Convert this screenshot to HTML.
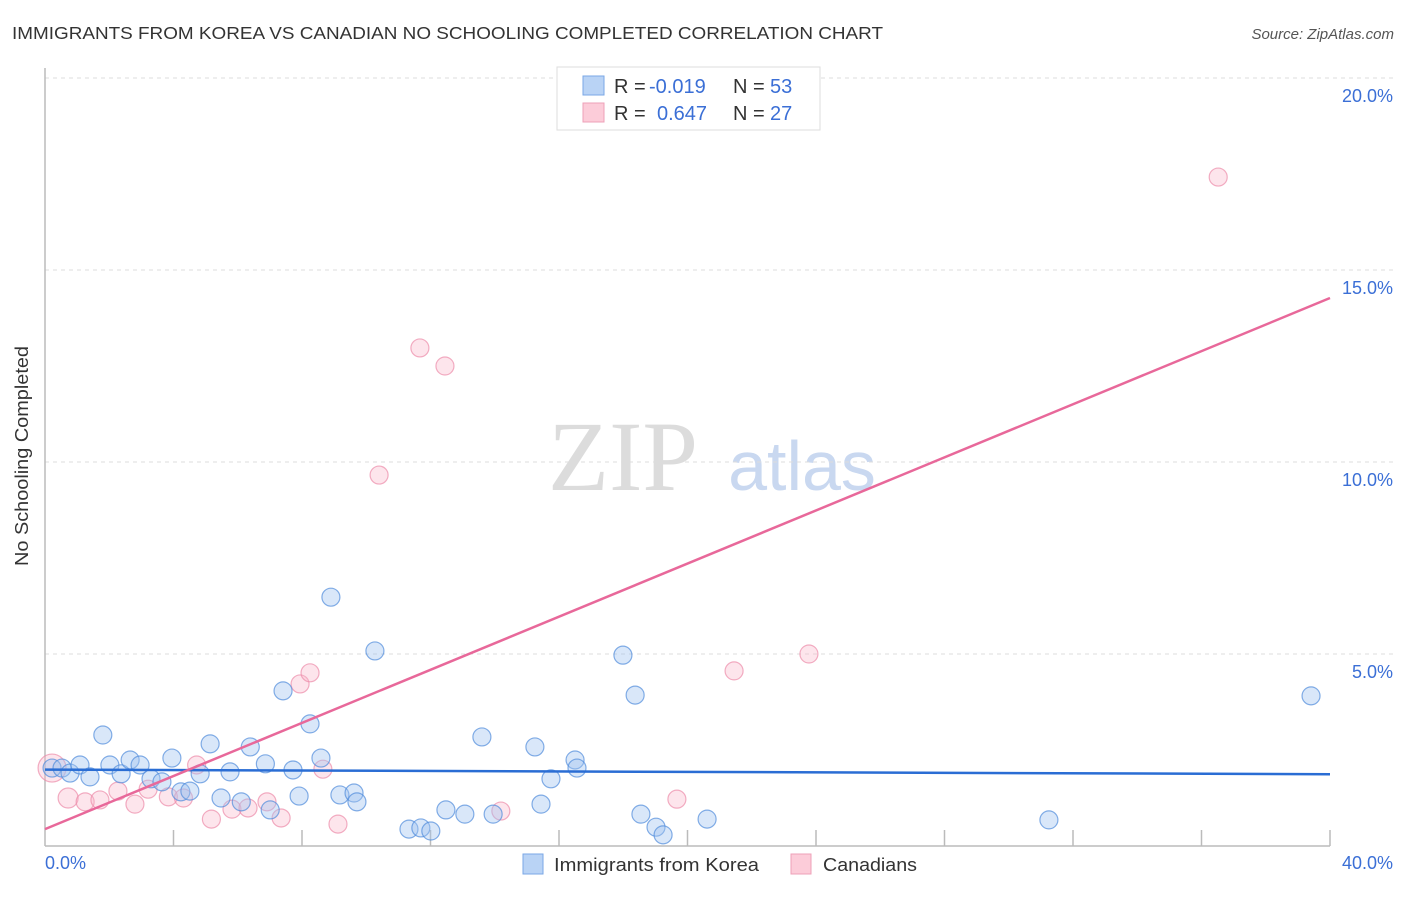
<!DOCTYPE html>
<html><head><meta charset="utf-8"><style>
body{margin:0;background:#fff;font-family:"Liberation Sans",sans-serif;}
</style></head><body>
<svg width="1406" height="892" xmlns="http://www.w3.org/2000/svg" font-family="Liberation Sans, sans-serif">
<text x="12" y="39" font-size="17.5" fill="#333" textLength="871" lengthAdjust="spacingAndGlyphs">IMMIGRANTS FROM KOREA VS CANADIAN NO SCHOOLING COMPLETED CORRELATION CHART</text>
<text x="1394" y="39" font-size="15" fill="#555" font-style="italic" text-anchor="end">Source: ZipAtlas.com</text>
<text x="623" y="490" font-size="100" fill="#dcdcdc" font-family="Liberation Serif, serif" text-anchor="middle">ZIP</text>
<text x="802" y="490" font-size="70" fill="#c9d8f0" text-anchor="middle">atlas</text>
<g id="grid"></g>
<g id="axes"></g>
<g id="pts"></g>
<g id="trend"></g>
<text x="28" y="456" font-size="18" fill="#333" text-anchor="middle" textLength="220" lengthAdjust="spacingAndGlyphs" transform="rotate(-90 28 456)">No Schooling Completed</text>
<text x="45" y="869" font-size="18" fill="#3b6fd6">0.0%</text>
<text x="1393" y="869" font-size="18" fill="#3b6fd6" text-anchor="end">40.0%</text>
<g>
<rect x="557" y="67" width="263" height="63" fill="#fff" stroke="#ddd"/>
<rect x="583" y="76" width="21" height="19" fill="#b9d3f5" stroke="#7aa7e6"/>
<rect x="583" y="103" width="21" height="19" fill="#fcccd9" stroke="#eea0b8"/>
<text x="614" y="93" font-size="20" fill="#333">R = <tspan fill="#3b6fd6" x="649">-0.019</tspan><tspan x="733">N = </tspan><tspan fill="#3b6fd6" x="770">53</tspan></text>
<text x="614" y="120" font-size="20" fill="#333">R = <tspan fill="#3b6fd6" x="657">0.647</tspan><tspan x="733">N = </tspan><tspan fill="#3b6fd6" x="770">27</tspan></text>
</g>
<g>
<rect x="523" y="854" width="20" height="20" fill="#b9d3f5" stroke="#7aa7e6"/>
<text x="554" y="871" font-size="18" fill="#333" textLength="205" lengthAdjust="spacingAndGlyphs">Immigrants from Korea</text>
<rect x="791" y="854" width="20" height="20" fill="#fcccd9" stroke="#eea0b8"/>
<text x="823" y="871" font-size="18" fill="#333" textLength="94" lengthAdjust="spacingAndGlyphs">Canadians</text>
</g>
</svg>
<script>
const yTicks=[5,10,15,20];
const yTickLabels=["5.0%","10.0%","15.0%","20.0%"];
const koreaX=[0.22,0.53,0.78,1.09,1.40,1.80,2.02,2.37,2.65,2.96,3.30,3.64,3.95,4.23,4.51,4.83,5.14,5.48,5.76,6.11,6.39,6.86,7.01,7.41,7.72,7.91,8.25,8.59,8.90,9.18,9.62,9.71,10.27,11.33,11.70,12.01,12.48,13.07,13.60,13.95,15.25,15.44,15.75,16.50,16.56,17.99,18.37,18.55,19.02,19.24,20.61,31.25,39.41];
const koreaY=[2.03,2.03,1.90,2.11,1.80,2.89,2.11,1.88,2.24,2.11,1.75,1.67,2.29,1.41,1.43,1.88,2.66,1.25,1.93,1.15,2.58,2.14,0.94,4.04,1.98,1.30,3.18,2.29,6.48,1.33,1.38,1.15,5.08,0.44,0.47,0.39,0.94,0.83,2.84,0.83,2.58,1.09,1.75,2.24,2.03,4.97,3.93,0.83,0.49,0.29,0.70,0.68,3.91];
const canX=[0.22,0.72,1.25,1.71,2.27,2.80,3.21,3.84,4.31,4.72,5.18,5.82,6.32,6.91,7.35,7.94,8.25,8.65,9.12,10.40,11.67,12.45,14.19,19.67,21.45,23.78,36.52];
const canY=[2.03,1.25,1.15,1.20,1.43,1.09,1.48,1.28,1.25,2.11,0.70,0.96,0.99,1.15,0.73,4.22,4.51,2.00,0.57,9.66,12.97,12.50,0.91,1.22,4.56,5.00,17.42];
const canSize=[14,10,9,9,9,9,9,9,9,9,9,9,9,9,9,9,9,9,9,9,9,9,9,9,9,9,9];
const trendKorea=[1.99,1.87];
const trendCan=[0.44,14.27];
const NS='http://www.w3.org/2000/svg';
const x=v=>45+v/40*1285, y=v=>846-v/5*192;
function mk(t,a,p){const e=document.createElementNS(NS,t);for(const k in a)e.setAttribute(k,a[k]);document.getElementById(p).appendChild(e);return e;}
yTicks.forEach((t,i)=>{
 const l=mk('line',{x1:45,x2:1394,y1:y(t),y2:y(t),stroke:'#ddd','stroke-dasharray':'4,4'},'grid');
 
 
 const tx=mk('text',{x:1393,y:y(t)+24,'font-size':18,fill:'#3b6fd6','text-anchor':'end'},'grid');
 tx.textContent=yTickLabels[i];
 
 
});
mk('line',{x1:45,x2:45,y1:68,y2:846,stroke:'#bbb','stroke-width':1.5},'axes');
mk('line',{x1:45,x2:1330,y1:846,y2:846,stroke:'#bbb','stroke-width':1.5},'axes');
for(let i=1;i<=10;i++){const t=mk('line',{x1:x(i*4),x2:x(i*4),y1:830,y2:846,stroke:'#bbb','stroke-width':1.5},'axes');
 
 }
canX.forEach((v,i)=>{const c=mk('circle',{cx:x(v),cy:y(canY[i]),r:canSize[i],fill:'rgba(249,180,200,0.35)',stroke:'rgba(236,140,170,0.7)','stroke-width':1.2},'pts');
 
 });
koreaX.forEach((v,i)=>{const c=mk('circle',{cx:x(v),cy:y(koreaY[i]),r:9,fill:'rgba(160,195,240,0.4)',stroke:'rgba(80,140,220,0.7)','stroke-width':1.2},'pts');
 
 });
const tk=mk('line',{x1:x(0),x2:x(40),y1:y(trendKorea[0]),y2:y(trendKorea[1]),stroke:'#2a6dd4','stroke-width':2.5},'trend');


const tc=mk('line',{x1:x(0),x2:x(40),y1:y(trendCan[0]),y2:y(trendCan[1]),stroke:'#e8689a','stroke-width':2.5},'trend');


</script>
</body></html>
